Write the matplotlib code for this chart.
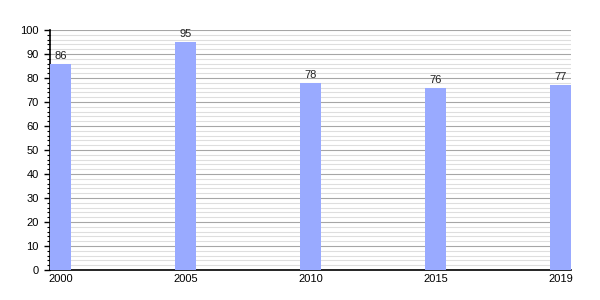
import numpy as np
import matplotlib

matplotlib.use("Agg")
import matplotlib.pyplot as plt
from matplotlib.ticker import MultipleLocator

plt.rcParams["font.family"] = ["Liberation Sans", "DejaVu Sans"]

years = ["2000", "2005", "2010", "2015", "2019"]
values = [86, 95, 78, 76, 77]

BAR_COLOR = "#99aaff"
BAR_W = 0.166

fig = plt.figure(figsize=(6, 3), dpi=100)
ax = fig.add_axes([50 / 600, 30 / 300, 521 / 600, 240 / 300])

x = np.arange(len(years))
bars = ax.bar(x, values, width=BAR_W, color=BAR_COLOR, zorder=3)
for xi, v in zip(x, values):
    ax.annotate(str(v), (xi, v), xytext=(0, 2), textcoords="offset points",
                ha="center", va="bottom", fontsize=8, color="#222222")

ax.set_xlim(x[0] - BAR_W / 2, x[-1] + BAR_W / 2)
ax.set_ylim(0, 100)
ax.set_xticks(x)
ax.set_xticklabels(years)
ax.yaxis.set_major_locator(MultipleLocator(10))
ax.yaxis.set_minor_locator(MultipleLocator(2))

ax.grid(axis="y", which="major", color="#a6a6a6", linewidth=0.8, zorder=0)
ax.grid(axis="y", which="minor", color="#dedede", linewidth=0.8, zorder=0)
ax.set_axisbelow(True)

for s in ("top", "right"):
    ax.spines[s].set_visible(False)
ax.spines["left"].set_linewidth(1.2)
ax.spines["bottom"].set_linewidth(1.2)

ax.tick_params(axis="x", length=0, pad=3, labelsize=8)
ax.tick_params(axis="y", which="major", length=4, width=1, labelsize=8, pad=4)
ax.tick_params(axis="y", which="minor", length=2.5, width=0.8)

fig.savefig("out.png", dpi=100)
